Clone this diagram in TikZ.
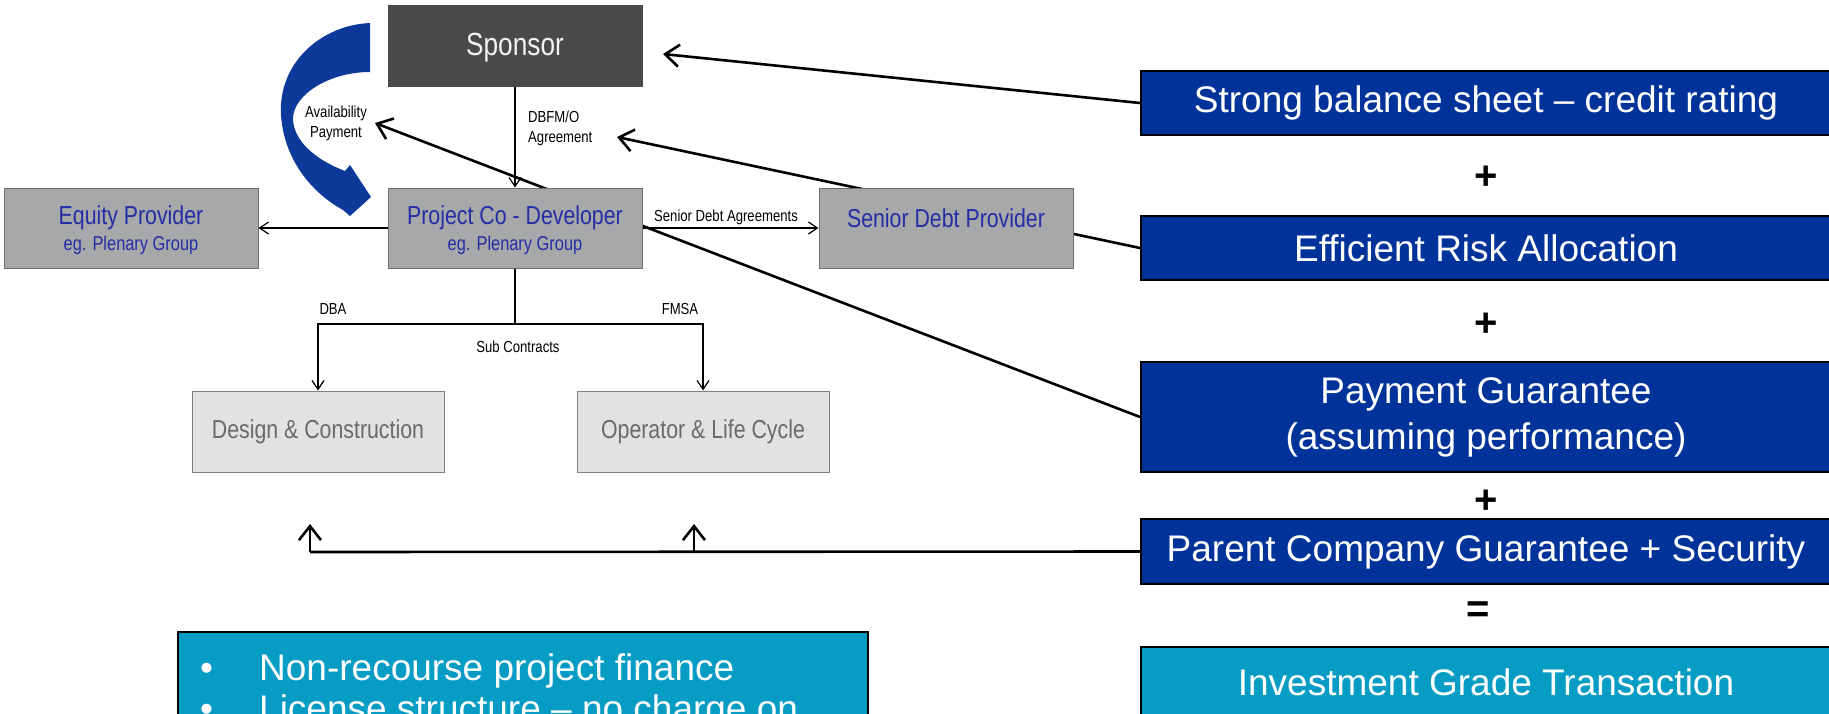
\documentclass[tikz,border=0pt]{standalone}
\usepackage{fontspec}
\setmainfont{Liberation Sans}
\newfontfamily\narrowfont[FakeStretch=0.82]{Liberation Sans}
\usetikzlibrary{arrows.meta}
\pgfdeclarelayer{background}
\pgfdeclarelayer{paper}
\pgfsetlayers{paper,background,main}
\definecolor{dblue}{HTML}{003399}
\definecolor{cyanbox}{HTML}{069CC4}
\definecolor{spfill}{HTML}{4A4A4A}
\definecolor{sptext}{HTML}{F2F2F2}
\definecolor{gfill}{HTML}{A7A8AA}
\definecolor{gborder}{HTML}{6E6E6E}
\definecolor{gtext}{RGB}{35,45,165}
\definecolor{lfill}{HTML}{E2E2E2}
\definecolor{lborder}{HTML}{7F7F7F}
\definecolor{ltext}{HTML}{6A6A6A}
\definecolor{arrblue}{HTML}{0D3A9A}
\tikzset{
  gbox/.style={draw=gborder, fill=gfill, line width=1pt, minimum width=254pt, minimum height=80pt, inner sep=0pt},
  spbox/.style={draw=spfill, fill=spfill, line width=1pt, minimum width=254pt, minimum height=81pt, inner sep=0pt},
  lbox/.style={draw=lborder, fill=lfill, line width=1pt, minimum width=252pt, minimum height=81pt, inner sep=0pt, text=ltext, font=\narrowfont\fontsize{26}{30}\selectfont},
  rbox/.style={draw=black, fill=dblue, line width=2pt, minimum width=690pt, inner sep=0pt, text=white, font=\fontsize{37}{46}\selectfont, align=center},
  cbox/.style={draw=black, fill=cyanbox, line width=2pt, inner sep=0pt},
  bigtxt/.style={text=gtext, font=\narrowfont\fontsize{26}{30}\selectfont, inner sep=0pt},
  subtxt/.style={text=gtext, font=\narrowfont\fontsize{20}{24}\selectfont, inner sep=0pt},
  lbl/.style={text=black, font=\narrowfont\fontsize{16}{20}\selectfont, inner sep=0pt},
  optxt/.style={text=black, font=\bfseries\fontsize{40}{44}\selectfont, inner sep=0pt},
  btxt/.style={text=white, font=\fontsize{37}{41}\selectfont, inner sep=0pt, anchor=base west},
  thin/.style={draw=black, line width=1.2pt, -{Straight Barb[length=9pt,width=12pt]}},
  thinline/.style={draw=black, line width=1.2pt},
  ov/.style={draw=black, line width=2.6pt},
  ovarrow/.style={draw=black, line width=2.6pt, -{Straight Barb[length=14pt,width=22pt]}}
}
\begin{document}
\begin{tikzpicture}[x=1pt,y=-1pt]
\useasboundingbox (0,0) rectangle (1829,713);
\begin{pgfonlayer}{paper}
\fill[white] (0,0) rectangle (1829,713);
\end{pgfonlayer}
\begin{scope}
\clip (0,0) rectangle (1829,713);

% left diagram boxes
\node[spbox] (sponsor) at (515,45.5) {};
\node[text=sptext, font=\narrowfont\fontsize{32}{38}\selectfont, inner sep=0pt] (sponsorT) at (515,48) {Sponsor};

\node[gbox] (projco) at (515,228) {};
\node[bigtxt] (projcoT) at (515,218) {Project Co - Developer};
\node[subtxt] (projcoS) at (515,245) {eg. Plenary Group};

\node[gbox] (equity) at (131,228) {};
\node[bigtxt] (equityT) at (131,218) {Equity Provider};
\node[subtxt] (equityS) at (131,245) {eg. Plenary Group};

\node[gbox] (senior) at (946,228) {};
\node[bigtxt] (seniorT) at (946,218) {Senior Debt Provider};

\node[lbox] (design) at (318,431.5) {Design \& Construction};
\node[lbox] (operator) at (703,431.5) {Operator \& Life Cycle};

% curved blue arrow
\fill[arrblue] (370,23) .. controls (322,25) and (278,62) .. (281,115)
  .. controls (284,160) and (312,193) .. (343,210) -- (350,216) -- (371,197) -- (350,165) -- (345,171)
  .. controls (316,160) and (293,141) .. (293,118) .. controls (294,94) and (330,72) .. (370,72) -- cycle;

% labels
\node[lbl, align=center] (avail) at (336,123) {Availability\\Payment};
\node[lbl, align=left, anchor=west] (dbfm) at (528,128) {DBFM/O\\Agreement};
\node[lbl] (sdaT) at (726,217) {Senior Debt Agreements};
\node[lbl] (dbaT) at (333,309) {DBA};
\node[lbl] (fmsaT) at (680,309) {FMSA};
\node[lbl] (subT) at (518,347) {Sub Contracts};

% internal connectors
\draw[thin] (sponsor.south) -- (projco.north);
\draw[thin] (projco.west) -- (equity.east);
\draw[thin] (projco.east) -- (senior.west);
\draw[thinline] (projco.south) -- (projco.south |- 0,324) coordinate (br);
\draw[thin] (br) -| (design.north);
\draw[thin] (br) -| (operator.north);

% right side boxes
\node[rbox, minimum height=64pt] (b1) at (1486,103) {Strong balance sheet – credit rating};
\node[optxt] (p1) at (1486,178) {+};
\node[rbox, minimum height=64pt] (b2) at (1486,248) {Efficient Risk Allocation};
\node[optxt] (p2) at (1486,325) {+};
\node[rbox, minimum height=110pt] (b3) at (1486,417) {Payment Guarantee\\(assuming performance)};
\node[optxt] (p3) at (1486,502) {+};
\node[rbox, minimum height=65pt] (b4) at (1486,551.5) {Parent Company Guarantee + Security};
\node[optxt] (eq) at (1478,612) {=};
\node[rbox, fill=cyanbox, minimum height=70pt] (b5) at (1486,682) {Investment Grade Transaction};

% bottom-left bullet box
\node[cbox, minimum width=690pt, minimum height=96pt] (nb) at (523,680) {};
\node[btxt] (bul1) at (200,680) {•};
\node[btxt] (l1) at (259,680) {Non-recourse project finance};
\node[btxt] (bul2) at (200,721) {•};
\node[btxt] (l2) at (259,721) {License structure – no charge on};

% overlay connectors (behind boxes)
\coordinate (t1) at (663,54);
\coordinate (t2) at (617,137);
\coordinate (t3) at (375,123);
\coordinate (cA) at (310,552);
\coordinate (cB) at (694,552);
\coordinate (uA) at (310,524);
\coordinate (uB) at (694,524);
\begin{pgfonlayer}{background}
\draw[ovarrow] (b1.west) -- (t1);
\draw[ovarrow] (b2.west) -- (t2);
\draw[ovarrow] (b3.west) -- (t3);
\end{pgfonlayer}
\draw[ov] (b4.west) -- (cA);
\draw[ovarrow] (cA) -- (uA);
\draw[ovarrow] (cB) -- (uB);
\end{scope}
\end{tikzpicture}
\end{document}
